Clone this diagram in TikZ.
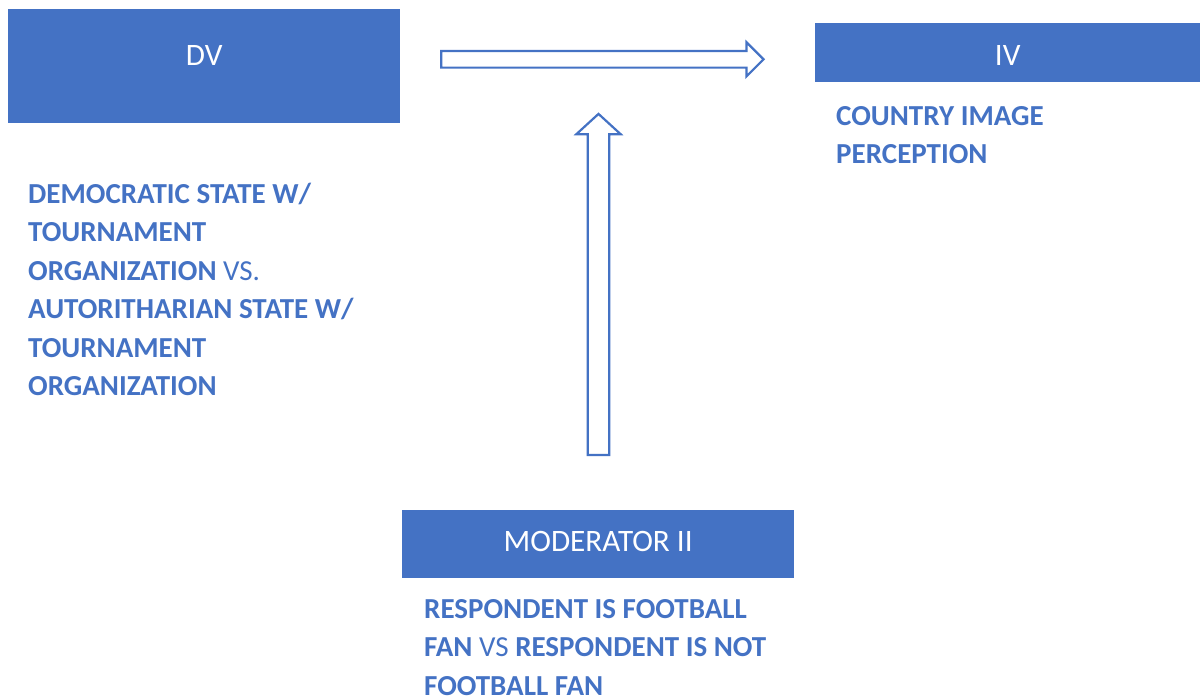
\documentclass[tikz,border=0pt]{standalone}
\usepackage{fontspec}
\setmainfont{Carlito}
\usetikzlibrary{positioning,shapes.arrows}
\definecolor{ppblue}{HTML}{4472C4}

\tikzset{
  headbox/.style={fill=ppblue, text=white, inner sep=0pt, anchor=north west,
    font=\fontsize{31.2}{38}\selectfont},
  desc/.style={text=ppblue, align=left, inner sep=0pt, anchor=north west,
    font=\fontsize{29}{38.5}\selectfont},
  blockarrow/.style={single arrow, draw=ppblue, fill=white, line width=2.2pt,
    anchor=tail}
}

\begin{document}
\begin{tikzpicture}[x=1pt, y=-1pt]
    \useasboundingbox (0,0) rectangle (1200,698);

    % Variable boxes
    \node[headbox, minimum width=392, text height=56, text depth=57.7] (dv) at (8,9) {DV};
    \node[headbox, minimum width=385, text height=42.3, text depth=17.3] (iv) at (815,22.7) {IV};
    \node[headbox, minimum width=392, text height=41.7, text depth=26] (moderator) at (402,510) {MODERATOR II};

    % Descriptions
    \node[desc] (dvtext) at (28,182.5) {\textbf{DEMOCRATIC STATE W/}\\\textbf{TOURNAMENT}\\\textbf{ORGANIZATION} VS.\\\textbf{AUTORITHARIAN STATE W/}\\\textbf{TOURNAMENT}\\\textbf{ORGANIZATION}};
    \node[desc] (ivtext) at (836,106.2) {\textbf{COUNTRY IMAGE}\\\textbf{PERCEPTION}};
    \node[desc] (modtext) at (424,598.8) {\textbf{RESPONDENT IS FOOTBALL}\\\textbf{FAN} VS \textbf{RESPONDENT IS NOT}\\\textbf{FOOTBALL FAN}};

    % Block arrows
    \node[blockarrow, inner sep=7.25pt, minimum height=322.3, minimum width=14.5,
      single arrow head extend=8.75, single arrow tip angle=90] (effect) at (440.1,59.3) {};
    \node[blockarrow, inner sep=9.7pt, minimum height=341, minimum width=19.4,
      single arrow head extend=11.3, single arrow tip angle=95,
      shape border rotate=90] (moderation) at (598.5,456) {};
\end{tikzpicture}
\end{document}
